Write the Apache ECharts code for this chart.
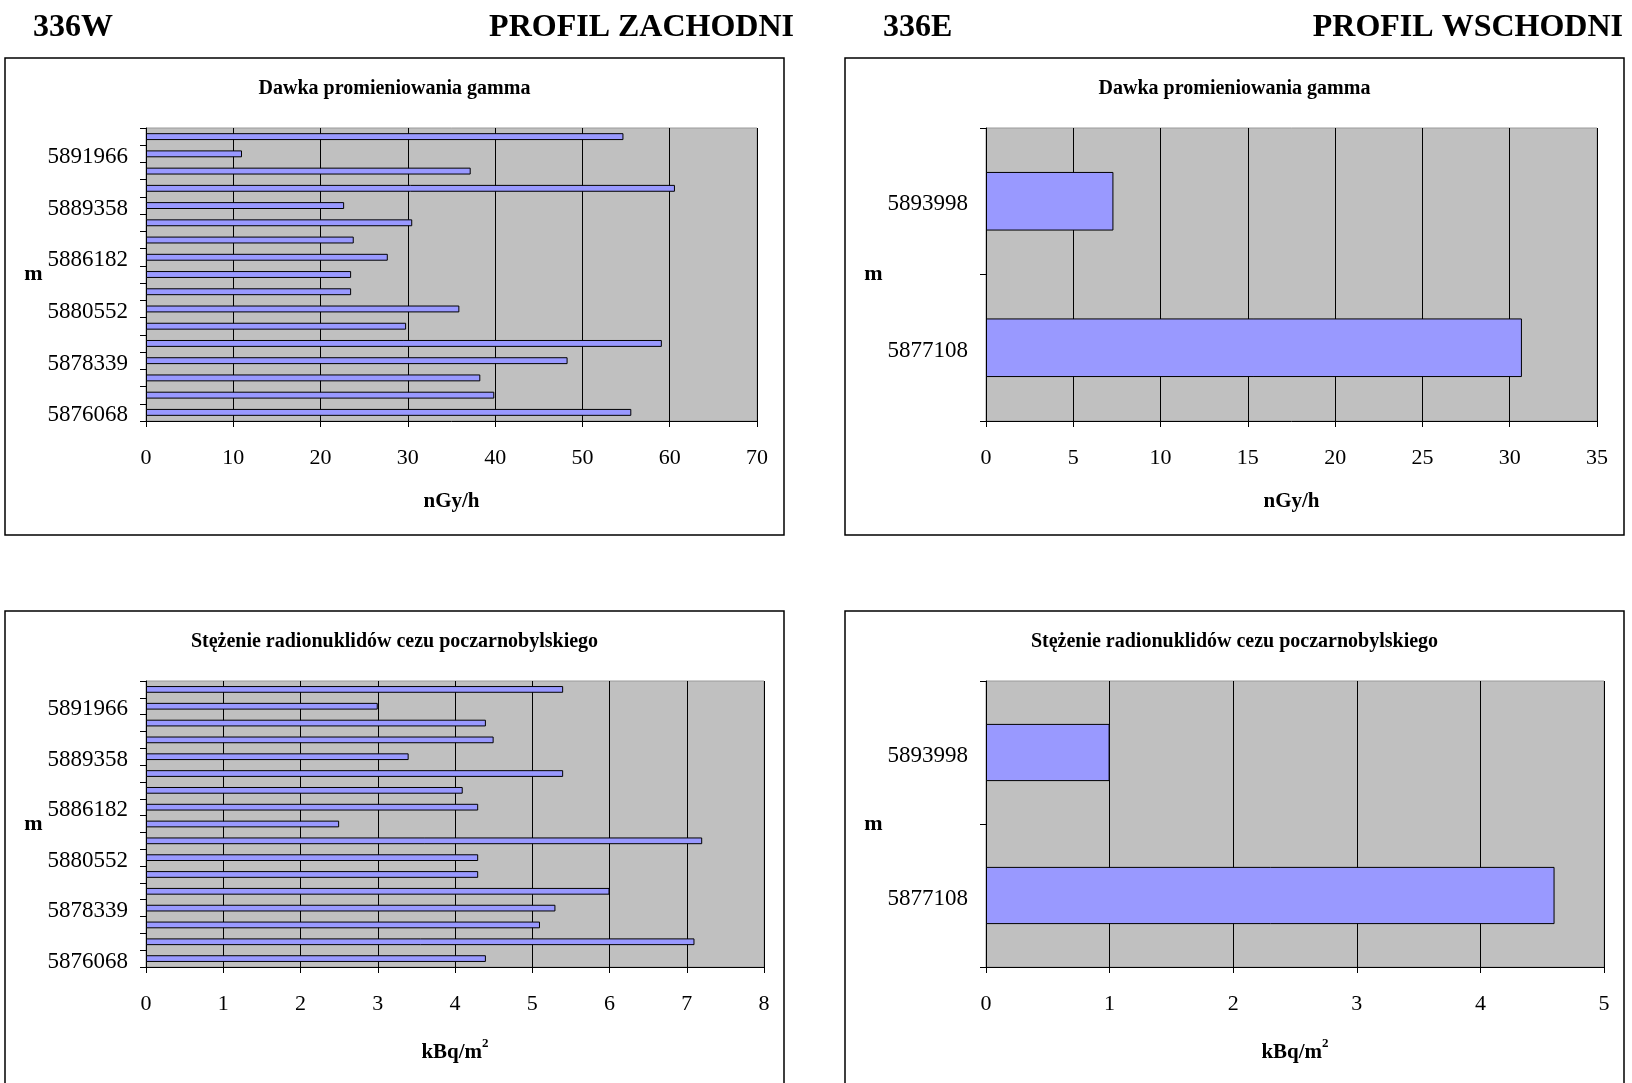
<!DOCTYPE html>
<html>
<head>
<meta charset="utf-8">
<script src="https://cdn.jsdelivr.net/npm/echarts@6/dist/echarts.min.js"></script>
<style>html,body{margin:0;padding:0;background:#fff}#c{width:1632px;height:1083px}</style>
</head>
<body>
<div id="c"></div>
<script>
// ---- data ----
const westCategories = ['5876068','','','5878339','','','5880552','','','5886182','','','5889358','','','5891966',''];
const westGamma = [55.6, 39.9, 38.3, 48.3, 59.1, 29.8, 35.9, 23.5, 23.5, 27.7, 23.8, 30.5, 22.7, 60.6, 37.2, 11.0, 54.7];
const westCs = [4.4, 7.1, 5.1, 5.3, 6.0, 4.3, 4.3, 7.2, 2.5, 4.3, 4.1, 5.4, 3.4, 4.5, 4.4, 3.0, 5.4];
const eastCategories = ['5877108','5893998'];
const eastGamma = [30.7, 7.3];
const eastCs = [4.6, 1.0];
const headers = ['336W','PROFIL ZACHODNI','336E','PROFIL WSCHODNI'];
const titleGamma = 'Dawka promieniowania gamma';
const titleCs = 'Stężenie radionuklidów cezu poczarnobylskiego';

const FONT = '"Liberation Serif","Times New Roman",serif';
const chart = echarts.init(document.getElementById('c'), null, {renderer:'canvas'});

const grids = [
  {left:146, top:128, width:611, height:293},
  {left:986, top:128, width:611, height:293},
  {left:146, top:681, width:618, height:286},
  {left:986, top:681, width:618, height:286}
];
const xCfg = [
  {max:70, interval:10, name:'nGy/h'},
  {max:35, interval:5, name:'nGy/h'},
  {max:8, interval:1, name:'kBq/m{sup|2}'},
  {max:5, interval:1, name:'kBq/m{sup|2}'}
];
const yCats = [westCategories, eastCategories, westCategories, eastCategories];
const seriesData = [westGamma, eastGamma, westCs, eastCs];

const option = {
  animation:false,
  textStyle:{fontFamily:FONT, color:'#000'},
  grid: grids.map(g => Object.assign({show:true, backgroundColor:'#C0C0C0', borderColor:'#9a9a9a', borderWidth:1, containLabel:false}, g)),
  xAxis: xCfg.map((c,i) => ({
    type:'value', gridIndex:i, min:0, max:c.max, interval:c.interval,
    name:c.name, nameLocation:'middle', nameGap:70,
    nameTextStyle:{fontFamily:FONT, fontSize:21, fontWeight:'bold', color:'#000',
      rich:{sup:{fontFamily:FONT, fontSize:13, fontWeight:'bold', verticalAlign:'top', padding:[0,0,18,0]}}},
    axisLine:{show:true, lineStyle:{color:'#000', width:1}},
    axisTick:{show:true, inside:false, length:6, lineStyle:{color:'#000'}},
    axisLabel:{fontFamily:FONT, fontSize:22, color:'#000', margin:26},
    splitLine:{show:true, lineStyle:{color:'#000', width:1}}
  })),
  yAxis: yCats.map((cats,i) => ({
    type:'category', gridIndex:i, data:cats, boundaryGap:true,
    name:'m', nameLocation:'middle', nameRotate:0, nameGap:103,
    nameTextStyle:{fontFamily:FONT, fontSize:22, fontWeight:'bold', color:'#000', align:'right'},
    axisLine:{show:true, lineStyle:{color:'#000', width:1}},
    axisTick:{show:true, inside:false, length:6, alignWithLabel:false, interval:0, lineStyle:{color:'#000'}},
    axisLabel:{fontFamily:FONT, fontSize:23, color:'#000', margin:18, verticalAlign:'top', lineHeight:6, interval: cats.length > 2 ? 2 : 0},
    splitLine:{show:false}
  })),
  series: seriesData.map((d,i) => ({
    type:'bar', xAxisIndex:i, yAxisIndex:i, data:d,
    barCategoryGap:'60%',
    itemStyle:{color:'#9999FF', borderColor:'#000', borderWidth:1},
    silent:true
  })),
  graphic: [
    {type:'rect', shape:{x:5, y:58, width:779, height:477}, style:{fill:null, stroke:'#000', lineWidth:1.5}, z:-1},
    {type:'rect', shape:{x:845, y:58, width:779, height:477}, style:{fill:null, stroke:'#000', lineWidth:1.5}, z:-1},
    {type:'rect', shape:{x:5, y:611, width:779, height:490}, style:{fill:null, stroke:'#000', lineWidth:1.5}, z:-1},
    {type:'rect', shape:{x:845, y:611, width:779, height:490}, style:{fill:null, stroke:'#000', lineWidth:1.5}, z:-1},
    {type:'text', x:33, y:28, style:{text:headers[0], font:'bold 32px '+FONT, fill:'#000', textAlign:'left', textVerticalAlign:'middle'}},
    {type:'text', x:794, y:28, style:{text:headers[1], font:'bold 32px '+FONT, fill:'#000', textAlign:'right', textVerticalAlign:'middle'}},
    {type:'text', x:883, y:28, style:{text:headers[2], font:'bold 32px '+FONT, fill:'#000', textAlign:'left', textVerticalAlign:'middle'}},
    {type:'text', x:1623, y:28, style:{text:headers[3], font:'bold 32px '+FONT, fill:'#000', textAlign:'right', textVerticalAlign:'middle'}},
    {type:'text', x:394.5, y:89, style:{text:titleGamma, font:'bold 20px '+FONT, fill:'#000', textAlign:'center', textVerticalAlign:'middle'}},
    {type:'text', x:1234.5, y:89, style:{text:titleGamma, font:'bold 20px '+FONT, fill:'#000', textAlign:'center', textVerticalAlign:'middle'}},
    {type:'text', x:394.5, y:642, style:{text:titleCs, font:'bold 20px '+FONT, fill:'#000', textAlign:'center', textVerticalAlign:'middle'}},
    {type:'text', x:1234.5, y:642, style:{text:titleCs, font:'bold 20px '+FONT, fill:'#000', textAlign:'center', textVerticalAlign:'middle'}}
  ]
};
chart.setOption(option);
</script>
</body>
</html>
